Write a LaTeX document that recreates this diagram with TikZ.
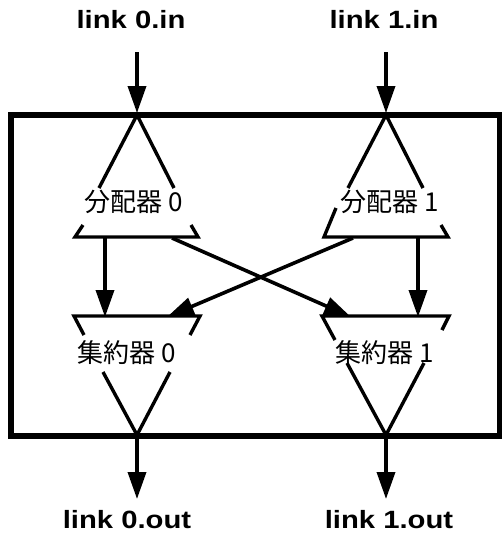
\documentclass[tikz,border=0pt]{standalone}
\usepackage{fontspec}
\setmainfont{Liberation Sans}
\newfontfamily\cjk{Noto Sans CJK JP}
\usetikzlibrary{arrows.meta}
\begin{document}
\begin{tikzpicture}[x=1pt,y=-1pt,
  linklabel/.style={font=\bfseries\fontsize{25}{25}\selectfont, anchor=base, inner sep=0pt},
  unitlabel/.style={font=\cjk\fontsize{26}{26}\selectfont, inner sep=0pt},
  tri/.style={line width=3.4pt, line join=miter},
  flow/.style={line width=3.6pt, -{Triangle[length=27pt,width=18pt]}},
  frame/.style={line width=6pt}]
\useasboundingbox (0,0) rectangle (502,536);
% frame
\draw[frame] (11,115) rectangle (500,436);
% labels
\node[linklabel] (in0) at (131,28) {\scalebox{1.17}[1]{link 0.in}};
\node[linklabel] (in1) at (384,28) {\scalebox{1.17}[1]{link 1.in}};
\node[linklabel] (out0) at (127,528) {\scalebox{1.17}[1]{link 0.out}};
\node[linklabel] (out1) at (389,528) {\scalebox{1.17}[1]{link 1.out}};
% unit labels
\node[unitlabel] (d0) at (134,202) {分配器 0};
\node[unitlabel] (d1) at (390,202) {分配器 1};
\node[unitlabel] (c0) at (127,353) {集約器 0};
\node[unitlabel] (c1) at (385,353) {集約器 1};
% distributor 0
\draw[tri] (99,188) -- (137,115) -- (174,188);
\draw[tri] (83,225) -- (75,237) -- (198,237) -- (191,225);
% distributor 1
\draw[tri] (348,188) -- (386,115) -- (423,188);
\draw[tri] (336,208) -- (324,237) -- (448,237) -- (441,225);
% collector 0
\draw[tri] (84,335) -- (74,316) -- (200,316) -- (190,335);
\draw[tri] (103,372) -- (137,435) -- (170,372);
% collector 1
\draw[tri] (335,340) -- (322,316) -- (449,316) -- (442,330);
\draw[tri] (347,363) -- (386,435) -- (424,363);
% coordinates
\coordinate (s0) at (137,52);
\coordinate (s1) at (386,52);
\coordinate (a0) at (137,113);
\coordinate (a1) at (386,113);
\coordinate (b0) at (137,437);
\coordinate (b1) at (386,437);
\coordinate (t0) at (137,499);
\coordinate (t1) at (386,499);
\coordinate (d0v) at (105,237);
\coordinate (c0v) at (105,317);
\coordinate (d1v) at (418,237);
\coordinate (c1v) at (418,317);
\coordinate (d0x) at (172,238);
\coordinate (c1x) at (351,317);
\coordinate (d1x) at (353,238);
\coordinate (c0x) at (167,317);
% connectors
\draw[flow] (s0) -- (a0);
\draw[flow] (s1) -- (a1);
\draw[flow] (b0) -- (t0);
\draw[flow] (b1) -- (t1);
\draw[flow] (d0v) -- (c0v);
\draw[flow] (d1v) -- (c1v);
\draw[flow] (d0x) -- (c1x);
\draw[flow] (d1x) -- (c0x);
\end{tikzpicture}
\end{document}
